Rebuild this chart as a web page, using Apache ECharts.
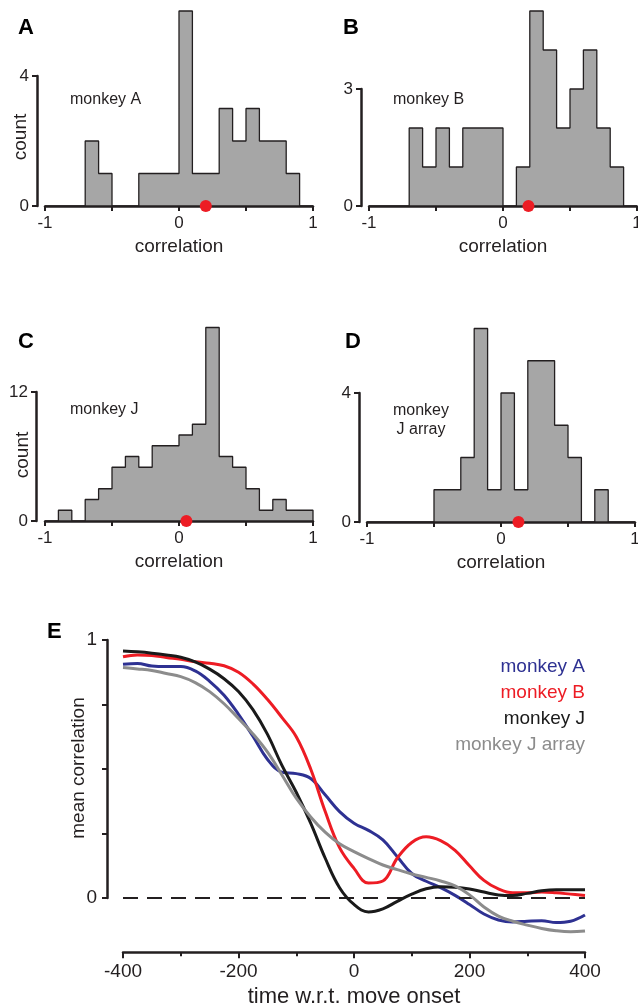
<!DOCTYPE html>
<html><head><meta charset="utf-8">
<script src="https://cdn.jsdelivr.net/npm/echarts@6/dist/echarts.min.js"></script>
<style>html,body{margin:0;padding:0;background:#fff;}#c{width:638px;height:1007px;}</style>
</head><body><div id="c"></div>
<script>
// ---------- DATA ----------
const binEdges = [-1.0,-0.9,-0.8,-0.7,-0.6,-0.5,-0.4,-0.3,-0.2,-0.1,0.0,0.1,0.2,0.3,0.4,0.5,0.6,0.7,0.8,0.9,1.0];
const countsA = [0,0,0,2,1,0,0,1,1,1,6,1,1,3,2,3,2,2,1,0];
const countsB = [0,0,0,2,1,2,1,2,2,2,0,1,5,4,2,3,4,2,1,0];
const countsC = [0,1,0,2,3,5,6,5,7,7,8,9,18,6,5,3,1,2,1,1];
const countsD = [0,0,0,0,0,1,1,2,6,1,4,1,5,5,3,2,0,1,0,0];
const meanA = 0.20, meanB = 0.19, meanC = 0.055, meanD = 0.13;
const countTickMax = [4, 3, 12, 4];
const panelLabels = ['A','B','C','D','E'];
const panelNames = ['monkey A','monkey B','monkey J','monkey\nJ array'];

const timeMs = [-400,-375,-350,-325,-300,-275,-250,-225,-200,-175,-150,-125,-100,-75,-50,-25,0,25,50,75,100,125,150,175,200,225,250,275,300,325,350,375,400];
const corrMonkeyA = [0.906,0.909,0.899,0.897,0.897,0.88,0.84,0.786,0.712,0.627,0.538,0.488,0.482,0.463,0.40,0.335,0.29,0.262,0.225,0.16,0.095,0.065,0.04,0.01,-0.025,-0.062,-0.085,-0.093,-0.09,-0.088,-0.095,-0.09,-0.066];
const corrMonkeyB = [0.935,0.942,0.94,0.932,0.925,0.916,0.91,0.90,0.875,0.83,0.77,0.70,0.625,0.50,0.336,0.195,0.115,0.058,0.066,0.155,0.215,0.237,0.222,0.185,0.125,0.068,0.035,0.02,0.02,0.023,0.02,0.015,0.01];
const corrMonkeyJ = [0.957,0.954,0.949,0.942,0.933,0.915,0.887,0.85,0.80,0.73,0.635,0.515,0.41,0.29,0.155,0.04,-0.025,-0.054,-0.042,-0.013,0.015,0.036,0.044,0.042,0.035,0.023,0.012,0.01,0.018,0.028,0.032,0.032,0.032];
const corrMonkeyJArray = [0.893,0.888,0.882,0.87,0.858,0.835,0.80,0.753,0.696,0.636,0.566,0.478,0.387,0.314,0.255,0.21,0.18,0.153,0.128,0.11,0.093,0.08,0.066,0.047,0.012,-0.035,-0.07,-0.09,-0.105,-0.118,-0.127,-0.131,-0.128];
const seriesNamesE = ['monkey A','monkey B','monkey J','monkey J array'];

// ---------- STYLE / LAYOUT ----------
const FONT = 'Liberation Sans, Arial, Helvetica, sans-serif';
const INK = '#231f20';
const colorsE = ['#2e3192','#ed1c24','#1a1a1a','#8c8c8c'];
const histLayout = [
  {left:45,  base:206, unit:32.5,  yOff:8, name:[70,100],  count:[21,137], letter:[18,28]},
  {left:369, base:206, unit:39,    yOff:8, name:[393,100], count:null,     letter:[343,28]},
  {left:45,  base:521, unit:10.75, yOff:9, name:[70,410],  count:[23,455], letter:[18,342]},
  {left:367, base:522, unit:32.25, yOff:8, name:[421,420], count:null,     letter:[345,342]}
];
const HW = 268;

const grids = [], xAxes = [], yAxes = [], series = [], graphics = [];
const allCounts = [countsA, countsB, countsC, countsD];
const allMeans = [meanA, meanB, meanC, meanD];

function stepPoints(counts){
  const pts = [[binEdges[0], 0]];
  counts.forEach((c,i)=>pts.push([binEdges[i], c]));
  pts.push([binEdges[binEdges.length-1], 0]);
  return pts;
}

allCounts.forEach((counts, p) => {
  const L = histLayout[p];
  const yMax = Math.max(...counts);
  const tMax = countTickMax[p];
  const gMain = grids.length;
  grids.push({left:L.left, top:L.base - L.unit*yMax, width:HW, height:L.unit*yMax, containLabel:false, outerBoundsMode:'none'});
  xAxes.push({gridIndex:gMain, type:'value', min:-1, max:1, interval:0.5, z:3,
    axisLine:{show:true, onZero:false, lineStyle:{color:INK, width:2.5}},
    axisTick:{show:true, length:5, lineStyle:{color:INK, width:2}},
    axisLabel:{fontSize:17, color:INK, fontFamily:FONT, margin:9,
      formatter:v => Number.isInteger(v) ? String(v) : ''},
    splitLine:{show:false},
    name:'correlation', nameLocation:'middle', nameGap:31,
    nameTextStyle:{fontSize:19, color:INK, fontFamily:FONT}});
  yAxes.push({gridIndex:gMain, type:'value', min:0, max:yMax, show:false});
  const gTick = grids.length;
  grids.push({left:L.left, top:L.base - L.unit*tMax, width:HW, height:L.unit*tMax, containLabel:false, outerBoundsMode:'none'});
  xAxes.push({gridIndex:gTick, type:'value', min:-1, max:1, show:false});
  yAxes.push({gridIndex:gTick, type:'value', min:0, max:tMax, interval:tMax, offset:L.yOff, position:'left',
    axisLine:{show:true, onZero:false, lineStyle:{color:INK, width:2.5}},
    axisTick:{show:true, length:5, lineStyle:{color:INK, width:2}},
    axisLabel:{fontSize:17, color:INK, fontFamily:FONT, margin:8},
    splitLine:{show:false}});
  series.push({type:'line', name:'hist'+p, xAxisIndex:gMain, yAxisIndex:gMain, step:'end',
    data:stepPoints(counts), symbol:'none', showSymbol:false, clip:false, silent:true, z:2,
    lineStyle:{color:INK, width:1.3}, areaStyle:{color:'#a6a6a6', opacity:1}});
  series.push({type:'scatter', name:'mean'+p, xAxisIndex:gMain, yAxisIndex:gMain,
    data:[[allMeans[p], 0]], symbolSize:12, clip:false, silent:true, z:5,
    itemStyle:{color:'#ed1c24', opacity:1}});
  graphics.push({type:'text', x:L.letter[0], y:L.letter[1], style:{text:panelLabels[p], font:'bold 22px '+FONT, fill:'#000', textAlign:'left', textVerticalAlign:'middle'}});
  graphics.push({type:'text', x:L.name[0], y:L.name[1], style:{text:panelNames[p], font:'16px '+FONT, fill:INK,
    textAlign: p===3 ? 'center' : 'left', textVerticalAlign:'middle', lineHeight:19}});
  if (L.count) graphics.push({type:'text', x:L.count[0], y:L.count[1], rotation:Math.PI/2,
    style:{text:'count', font:'19px '+FONT, fill:INK, textAlign:'center', textVerticalAlign:'middle'}});
});

// ---------- PANEL E ----------
const E = {left:123, top:640, width:462, unit:258, yMin:-0.21};
const gE = grids.length;
grids.push({left:E.left, top:E.top, width:E.width, height:E.unit*(1-E.yMin), containLabel:false, outerBoundsMode:'none'});
xAxes.push({gridIndex:gE, type:'value', min:-400, max:400, interval:200,
  axisLine:{show:true, onZero:false, lineStyle:{color:INK, width:2.5}},
  axisTick:{show:true, length:6, lineStyle:{color:INK, width:2}},
  minorTick:{show:true, splitNumber:2, length:4, lineStyle:{color:INK, width:2}},
  axisLabel:{fontSize:19, color:INK, fontFamily:FONT, margin:10},
  splitLine:{show:false}, minorSplitLine:{show:false},
  name:'time w.r.t. move onset', nameLocation:'middle', nameGap:34,
  nameTextStyle:{fontSize:22, color:INK, fontFamily:FONT}});
yAxes.push({gridIndex:gE, type:'value', min:E.yMin, max:1, show:false});
const gE2 = grids.length;
grids.push({left:E.left, top:E.top, width:E.width, height:E.unit, containLabel:false, outerBoundsMode:'none'});
xAxes.push({gridIndex:gE2, type:'value', min:-400, max:400, show:false});
yAxes.push({gridIndex:gE2, type:'value', min:0, max:1, interval:0.25, offset:16, position:'left',
  axisLine:{show:true, onZero:false, lineStyle:{color:INK, width:2.5}},
  axisTick:{show:true, length:5, lineStyle:{color:INK, width:2}},
  axisLabel:{fontSize:19, color:INK, fontFamily:FONT, margin:10,
    formatter:v => (v===0 || v===1) ? String(v) : ''},
  splitLine:{show:false}});

const curves = [corrMonkeyA, corrMonkeyB, corrMonkeyJ, corrMonkeyJArray];
curves.forEach((vals, k) => {
  const s = {type:'line', name:seriesNamesE[k], xAxisIndex:gE, yAxisIndex:gE,
    data: timeMs.map((t,i)=>[t, vals[i]]), smooth:0.4, symbol:'none', showSymbol:false,
    lineStyle:{color:colorsE[k], width:3}, itemStyle:{color:colorsE[k]}, z:3+k, silent:true};
  if (k===0) s.markLine = {silent:true, symbol:'none', label:{show:false}, animation:false,
    lineStyle:{type:[15,9], color:INK, width:2}, data:[{yAxis:0}]};
  series.push(s);
});
graphics.push({type:'text', x:47, y:632, style:{text:panelLabels[4], font:'bold 22px '+FONT, fill:'#000', textAlign:'left', textVerticalAlign:'middle'}});
graphics.push({type:'text', x:79, y:768, rotation:Math.PI/2,
  style:{text:'mean correlation', font:'19px '+FONT, fill:INK, textAlign:'center', textVerticalAlign:'middle'}});

const chart = echarts.init(document.getElementById('c'), null, {renderer:'canvas'});
chart.setOption({
  animation:false,
  backgroundColor:'#fff',
  textStyle:{fontFamily:FONT},
  grid:grids, xAxis:xAxes, yAxis:yAxes, series:series,
  legend:{data:seriesNamesE.map((n,k)=>({name:n, textStyle:{color:colorsE[k]}})),
    orient:'vertical', right:48, top:657, padding:0, icon:'none', itemWidth:0, itemHeight:14,
    itemGap:7, align:'right', selectedMode:false,
    textStyle:{fontSize:19, fontFamily:FONT}},
  graphic:graphics
});
</script></body></html>
